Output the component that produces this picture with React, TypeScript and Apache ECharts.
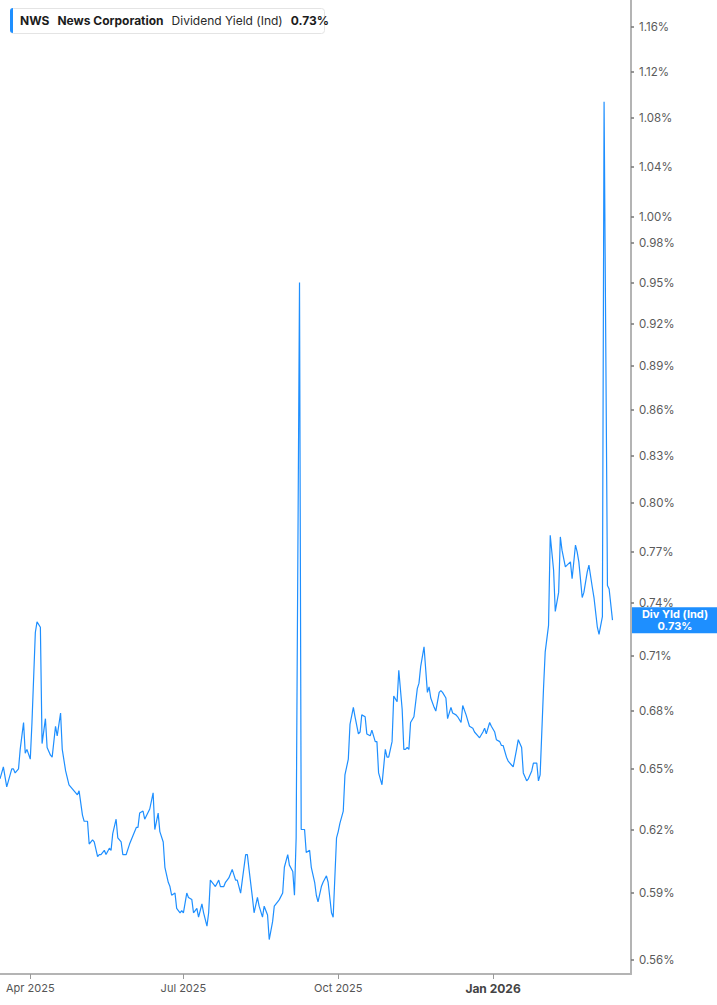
import * as echarts from "echarts";
import React, { useEffect, useRef } from "react";

// trading dates and indicated dividend yield (%)
const dates = [
  "2025-03-14", "2025-03-16", "2025-03-18", "2025-03-19", "2025-03-21", "2025-03-22", "2025-03-23", "2025-03-25",
  "2025-03-26", "2025-03-28", "2025-03-29", "2025-03-30", "2025-04-01", "2025-04-02", "2025-04-04", "2025-04-05",
  "2025-04-07", "2025-04-08", "2025-04-10", "2025-04-11", "2025-04-13", "2025-04-14", "2025-04-16", "2025-04-17",
  "2025-04-19", "2025-04-20", "2025-04-22", "2025-04-24", "2025-04-25", "2025-04-26", "2025-04-29", "2025-04-30",
  "2025-05-02", "2025-05-03", "2025-05-05", "2025-05-06", "2025-05-08", "2025-05-09", "2025-05-11", "2025-05-12",
  "2025-05-13", "2025-05-15", "2025-05-16", "2025-05-18", "2025-05-19", "2025-05-20", "2025-05-22", "2025-05-23",
  "2025-05-25", "2025-05-26", "2025-05-28", "2025-05-30", "2025-06-01", "2025-06-03", "2025-06-04", "2025-06-05",
  "2025-06-07", "2025-06-08", "2025-06-11", "2025-06-13", "2025-06-14", "2025-06-16", "2025-06-17", "2025-06-19",
  "2025-06-20", "2025-06-22", "2025-06-23", "2025-06-24", "2025-06-26", "2025-06-27", "2025-06-29", "2025-06-30",
  "2025-07-01", "2025-07-03", "2025-07-04", "2025-07-06", "2025-07-07", "2025-07-09", "2025-07-10", "2025-07-12",
  "2025-07-13", "2025-07-15", "2025-07-16", "2025-07-17", "2025-07-19", "2025-07-20", "2025-07-22", "2025-07-23",
  "2025-07-25", "2025-07-26", "2025-07-28", "2025-07-29", "2025-07-30", "2025-08-01", "2025-08-02", "2025-08-04",
  "2025-08-05", "2025-08-07", "2025-08-08", "2025-08-09", "2025-08-11", "2025-08-12", "2025-08-14", "2025-08-15",
  "2025-08-17", "2025-08-18", "2025-08-20", "2025-08-21", "2025-08-23", "2025-08-24", "2025-08-26", "2025-08-27",
  "2025-08-29", "2025-08-30", "2025-09-01", "2025-09-02", "2025-09-04", "2025-09-05", "2025-09-06", "2025-09-08",
  "2025-09-09", "2025-09-11", "2025-09-12", "2025-09-14", "2025-09-15", "2025-09-17", "2025-09-18", "2025-09-19",
  "2025-09-21", "2025-09-22", "2025-09-24", "2025-09-25", "2025-09-27", "2025-09-28", "2025-09-30", "2025-10-01",
  "2025-10-02", "2025-10-04", "2025-10-05", "2025-10-07", "2025-10-08", "2025-10-10", "2025-10-11", "2025-10-13",
  "2025-10-14", "2025-10-15", "2025-10-17", "2025-10-18", "2025-10-20", "2025-10-21", "2025-10-23", "2025-10-24",
  "2025-10-25", "2025-10-27", "2025-10-29", "2025-10-30", "2025-10-31", "2025-11-02", "2025-11-03", "2025-11-05",
  "2025-11-06", "2025-11-08", "2025-11-09", "2025-11-10", "2025-11-11", "2025-11-12", "2025-11-13", "2025-11-15",
  "2025-11-17", "2025-11-18", "2025-11-19", "2025-11-21", "2025-11-23", "2025-11-24", "2025-11-25", "2025-11-27",
  "2025-11-28", "2025-11-30", "2025-12-01", "2025-12-02", "2025-12-04", "2025-12-05", "2025-12-07", "2025-12-08",
  "2025-12-10", "2025-12-11", "2025-12-13", "2025-12-14", "2025-12-16", "2025-12-17", "2025-12-18", "2025-12-20",
  "2025-12-21", "2025-12-23", "2025-12-24", "2025-12-26", "2025-12-27", "2025-12-28", "2025-12-30", "2025-12-31",
  "2026-01-02", "2026-01-03", "2026-01-05", "2026-01-06", "2026-01-07", "2026-01-09", "2026-01-10", "2026-01-12",
  "2026-01-13", "2026-01-15", "2026-01-16", "2026-01-18", "2026-01-19", "2026-01-21", "2026-01-22", "2026-01-24",
  "2026-01-25", "2026-01-27", "2026-01-28", "2026-01-29", "2026-01-31", "2026-02-01", "2026-02-03", "2026-02-04",
  "2026-02-06", "2026-02-07", "2026-02-09", "2026-02-10", "2026-02-11", "2026-02-13", "2026-02-14", "2026-02-16",
  "2026-02-17", "2026-02-19", "2026-02-20", "2026-02-21", "2026-02-23", "2026-02-24", "2026-02-26", "2026-02-27",
  "2026-03-01", "2026-03-02", "2026-03-04", "2026-03-05", "2026-03-07", "2026-03-08", "2026-03-10", "2026-03-11",
  "2026-03-13",
];

const yieldValues = [
  0.645, 0.651, 0.641, 0.644, 0.65, 0.65, 0.648, 0.65,
  0.66, 0.674, 0.658, 0.66, 0.655, 0.674, 0.723, 0.729,
  0.726, 0.663, 0.676, 0.661, 0.657, 0.656, 0.672, 0.667,
  0.679, 0.66, 0.649, 0.642, 0.641, 0.64, 0.637, 0.639,
  0.627, 0.624, 0.624, 0.613, 0.615, 0.614, 0.607, 0.608,
  0.608, 0.61, 0.608, 0.611, 0.61, 0.618, 0.625, 0.616,
  0.614, 0.608, 0.608, 0.613, 0.617, 0.621, 0.621, 0.628,
  0.629, 0.625, 0.63, 0.638, 0.62, 0.628, 0.619, 0.614,
  0.602, 0.595, 0.593, 0.589, 0.59, 0.583, 0.581, 0.582,
  0.581, 0.59, 0.588, 0.587, 0.581, 0.583, 0.579, 0.585,
  0.581, 0.575, 0.581, 0.596, 0.594, 0.593, 0.596, 0.593,
  0.593, 0.595, 0.597, 0.599, 0.601, 0.596, 0.596, 0.59,
  0.596, 0.608, 0.608, 0.601, 0.588, 0.581, 0.588, 0.584,
  0.579, 0.584, 0.58, 0.569, 0.577, 0.584, 0.586, 0.587,
  0.59, 0.602, 0.608, 0.603, 0.6, 0.589, 0.616, 0.95,
  0.62, 0.62, 0.609, 0.61, 0.602, 0.595, 0.589, 0.586,
  0.593, 0.595, 0.598, 0.595, 0.581, 0.579, 0.616, 0.619,
  0.623, 0.629, 0.647, 0.655, 0.673, 0.682, 0.677, 0.668,
  0.669, 0.678, 0.677, 0.668, 0.667, 0.67, 0.664, 0.664,
  0.648, 0.642, 0.66, 0.656, 0.656, 0.664, 0.688, 0.685,
  0.702, 0.681, 0.66, 0.66, 0.661, 0.66, 0.674, 0.677,
  0.692, 0.695, 0.704, 0.715, 0.69, 0.693, 0.687, 0.682,
  0.68, 0.69, 0.691, 0.69, 0.687, 0.676, 0.682, 0.679,
  0.678, 0.677, 0.674, 0.683, 0.678, 0.675, 0.672, 0.671,
  0.669, 0.667, 0.666, 0.669, 0.671, 0.668, 0.674, 0.672,
  0.669, 0.665, 0.664, 0.662, 0.662, 0.656, 0.654, 0.652,
  0.651, 0.66, 0.665, 0.661, 0.648, 0.644, 0.645, 0.649,
  0.653, 0.653, 0.644, 0.647, 0.692, 0.712, 0.727, 0.78,
  0.759, 0.735, 0.746, 0.779, 0.771, 0.761, 0.762, 0.764,
  0.754, 0.774, 0.77, 0.764, 0.743, 0.746, 0.758, 0.762,
  0.749, 0.743, 0.726, 0.722, 0.732, 1.094, 0.75, 0.748,
  0.73,
];

const yTickValues = [
  0.56, 0.59, 0.62, 0.65, 0.68, 0.71, 0.74, 0.77, 0.8, 0.83,
  0.86, 0.89, 0.92, 0.95, 0.98, 1.0, 1.04, 1.08, 1.12, 1.16,
];
const xTickDates = ["2025-04-01", "2025-07-01", "2025-10-01", "2026-01-01"];
const xStart = "2025-03-14";
const xEnd = "2026-03-24";
const monthNames = ["Jan", "Feb", "Mar", "Apr", "May", "Jun", "Jul", "Aug", "Sep", "Oct", "Nov", "Dec"];

const lineColor = "#1e8fff";
const axisColor = "#b4b4b4";
const font = "Inter, 'Noto Sans', sans-serif";

const toTime = (d: string) => new Date(d + "T00:00:00").getTime();

const App: React.FC = () => {
  const chartRef = useRef<HTMLDivElement | null>(null);

  useEffect(() => {
    document.body.style.margin = "0";
    const chart = echarts.init(chartRef.current, null, { renderer: "svg" });
    const lastValue = yieldValues[yieldValues.length - 1];
    const xTicks = xTickDates.map(toTime);

    chart.setOption({
      animation: false,
      textStyle: { fontFamily: font },
      grid: { left: 0, right: 86, top: 0, bottom: 31 },
      xAxis: {
        type: "value",
        min: toTime(xStart),
        max: toTime(xEnd),
        splitLine: { show: false },
        axisLine: { lineStyle: { color: axisColor, width: 2 } },
        axisTick: {
          customValues: xTicks,
          length: 5,
          lineStyle: { color: "#999", width: 1 },
        },
        axisLabel: {
          customValues: xTicks,
          margin: 8,
          fontSize: 11,
          color: "#555",
          fontFamily: font,
          formatter: (value: number) => {
            const d = new Date(value);
            const text = monthNames[d.getMonth()] + " " + d.getFullYear();
            return d.getMonth() === 0 ? "{b|" + text + "}" : text;
          },
          rich: {
            b: { fontSize: 12, fontWeight: "bold", color: "#444", fontFamily: font },
          },
        },
      },
      yAxis: {
        type: "log",
        logBase: 10,
        position: "right",
        min: 0.5539,
        max: 1.1843,
        splitLine: { show: false },
        axisLine: { show: true, lineStyle: { color: axisColor, width: 2 } },
        axisTick: {
          show: true,
          customValues: yTickValues,
          length: 3,
          lineStyle: { color: "#777", width: 1.5 },
        },
        axisLabel: {
          customValues: yTickValues,
          margin: 8,
          fontSize: 11.5,
          color: "#5a5a5a",
          fontFamily: font,
          formatter: (value: number) => value.toFixed(2) + "%",
        },
      },
      series: [
        {
          type: "line",
          name: "Div Yld (Ind)",
          showSymbol: false,
          symbol: "none",
          lineStyle: { color: lineColor, width: 1.2 },
          data: dates.map((d, i) => [toTime(d), yieldValues[i]]),
          markLine: {
            silent: true,
            symbol: "none",
            lineStyle: { color: "rgba(0,0,0,0)", width: 0 },
            data: [{ yAxis: lastValue }],
            label: {
              show: true,
              position: "end",
              distance: 1,
              align: "left",
              formatter: "{a|Div Yld (Ind)}\n{a|" + lastValue.toFixed(2) + "%}",
              backgroundColor: lineColor,
              padding: [1, 10, 1, 10],
              rich: {
                a: {
                  width: 66,
                  align: "center",
                  color: "#fff",
                  fontWeight: "bold",
                  fontSize: 11,
                  lineHeight: 12,
                  fontFamily: font,
                },
              },
            },
          },
        },
      ],
      graphic: [
        {
          type: "rect",
          left: 10,
          top: 8,
          shape: { width: 314, height: 25, r: 3 },
          style: { fill: "#fff", stroke: "#e4e4e4", lineWidth: 1 },
        },
        {
          type: "rect",
          left: 10,
          top: 8,
          shape: { width: 3, height: 25, r: [3, 0, 0, 3] },
          style: { fill: lineColor },
        },
        {
          type: "text",
          left: 20,
          top: 14,
          style: {
            text: "{b|NWS}{b|News Corporation}{n|Dividend Yield (Ind)}{b|" + lastValue.toFixed(2) + "%}",
            rich: {
              b: { fontFamily: font, fontSize: 12, fontWeight: "bold", fill: "#1c1c1c", padding: [0, 8, 0, 0] },
              n: { fontFamily: font, fontSize: 12, fill: "#2a2a2a", padding: [0, 8, 0, 0] },
            },
          },
        },
      ],
    });

    return () => {
      chart.dispose();
    };
  }, []);

  return <div ref={chartRef} style={{ width: "717px", height: "1005px" }}></div>;
};

export default App;
